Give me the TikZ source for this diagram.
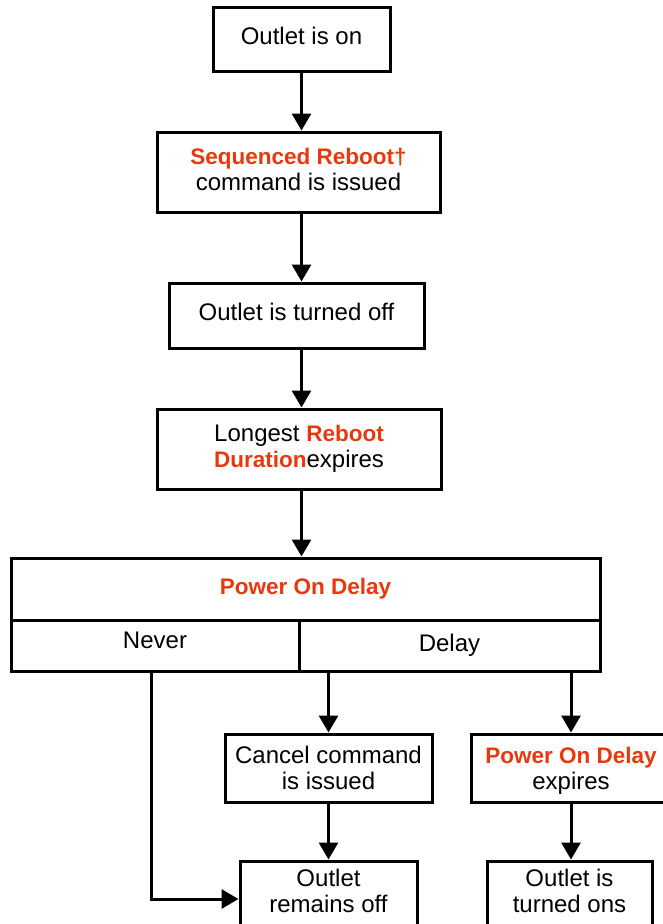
\documentclass[tikz,border=0pt]{standalone}
\usepackage{fontspec}
\setmainfont{Liberation Sans}
\usetikzlibrary{arrows.meta}
\definecolor{rd}{RGB}{232,56,13}
\newcommand{\hl}[1]{\textcolor{rd}{\fontsize{22.5}{26}\selectfont\textbf{#1}}}
\newcommand{\bt}[2][0]{\raisebox{#1pt}[\height][\depth]{\begin{tabular}{@{}c@{}}#2\end{tabular}}}
\begin{document}
\begin{tikzpicture}[x=1pt,y=-1pt,
  box/.style={draw=black,line width=3pt,inner sep=0pt,
    font=\fontsize{24}{26}\selectfont},
  arr/.style={line width=3pt,-{Triangle[width=19pt,length=17pt]}}]
\useasboundingbox (0,0) rectangle (662,924);
\node[box,minimum width=177,minimum height=64] (b1) at (301.5,39) {\bt{Outlet is on}};
\node[box,minimum width=283,minimum height=80] (b2) at (298.5,172) {\bt{\hl{Sequenced Reboot†}\\command is issued}};
\node[box,minimum width=255,minimum height=65] (b3) at (296.5,315.5) {\bt{Outlet is turned off}};
\node[box,minimum width=284,minimum height=80] (b4) at (299,449) {\bt{Longest \hl{Reboot}\\\hl{Duration}expires}};
\node[box,minimum width=589,minimum height=62] (pod) at (305.5,589) {\bt{\hl{Power On Delay}}};
\node[box,minimum width=288,minimum height=51] (never) at (155,645.5) {\bt[2]{Never}};
\node[box,minimum width=301,minimum height=51] (delay) at (449.5,645.5) {\bt[-1]{Delay}};
\node[box,minimum width=207,minimum height=68] (cancel) at (328.5,768) {\bt[-3]{Cancel command\\is issued}};
\node[box,minimum width=200,minimum height=68] (exp) at (571,768) {\bt[-3]{\hl{Power On Delay}\\expires}};
\node[box,minimum width=177,minimum height=76] (remain) at (328.5,899) {\bt[4.5]{Outlet\\remains off}};
\node[box,minimum width=165,minimum height=76] (on) at (569.5,899) {\bt[4.5]{Outlet is\\turned ons}};
\coordinate (nv) at (151,670);
\draw[arr] (b1.south) -- (b1.south |- b2.north);
\draw[arr] (b2.south -| b1.south) -- (b3.north -| b1.south);
\draw[arr] (b3.south -| b1.south) -- (b4.north -| b1.south);
\draw[arr] (b4.south -| b1.south) -- (pod.north -| b1.south);
\draw[arr] (nv) |- (remain.west);
\draw[arr] (cancel.north |- delay.south) -- (cancel.north);
\draw[arr] (exp.north |- delay.south) -- (exp.north);
\draw[arr] (cancel) -- (remain);
\draw[arr] (exp.south) -- (exp.south |- on.north);
\end{tikzpicture}
\end{document}
